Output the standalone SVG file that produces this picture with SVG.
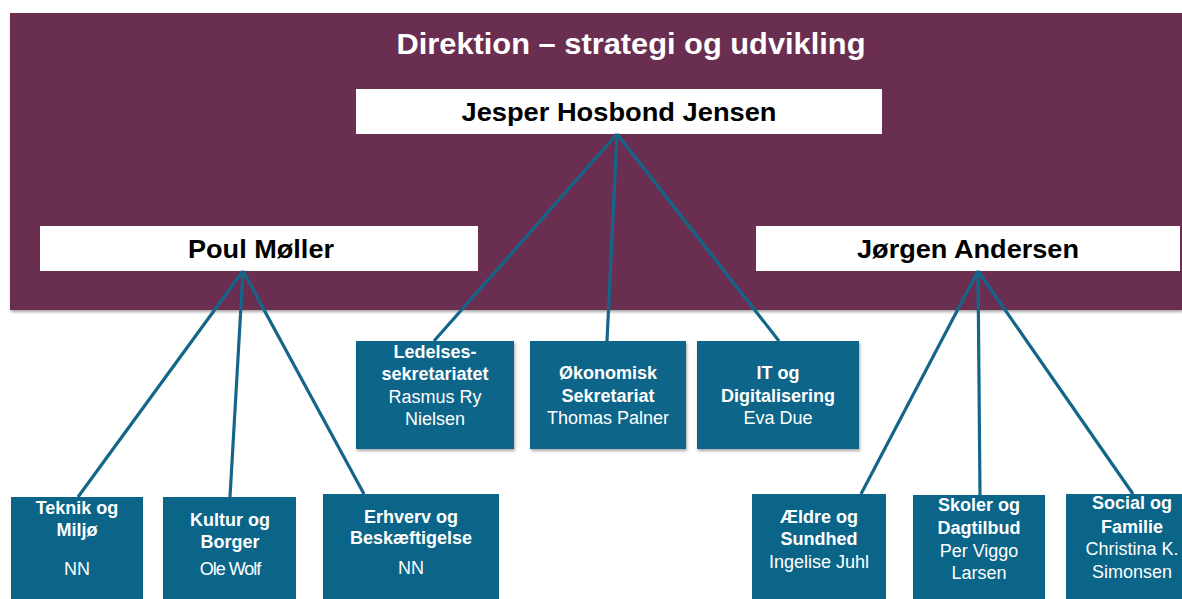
<svg xmlns="http://www.w3.org/2000/svg" width="1182" height="599" viewBox="0 0 1182 599">
<defs>
<filter id="sh" x="-5%" y="-5%" width="115%" height="120%"><feDropShadow dx="1" dy="2" stdDeviation="1.5" flood-color="#000" flood-opacity="0.35"/></filter>
<style>
.band{fill:#6a2d51;}
.wbox{fill:#ffffff;}
.bbox{fill:#0a6589;}
.conn line{stroke:#13668a;stroke-width:3.2;fill:none;}
text{font-family:"Liberation Sans",Arial,sans-serif;text-anchor:middle;}
.title{font-size:30px;font-weight:bold;fill:#ffffff;}
.head{font-size:26px;font-weight:bold;fill:#000000;}
.b{font-size:18px;font-weight:bold;fill:#ffffff;}
.r{font-size:18px;fill:#ffffff;}
</style>
</defs>
<rect width="1182" height="599" fill="#ffffff"/>
<g id="direktion">
<rect class="band" x="10" y="13" width="1172" height="297" filter="url(#sh)"/>
<text class="title" x="631" y="54" textLength="469" lengthAdjust="spacingAndGlyphs">Direktion – strategi og udvikling</text>
</g>
<g id="jesper">
<rect class="wbox" x="356" y="89" width="526" height="45"/>
<text class="head" x="619" y="121" textLength="315" lengthAdjust="spacingAndGlyphs">Jesper Hosbond Jensen</text>
</g>
<g id="poul">
<rect class="wbox" x="40" y="226" width="438" height="45"/>
<text class="head" x="261" y="258" textLength="146" lengthAdjust="spacingAndGlyphs">Poul Møller</text>
</g>
<g id="jorgen">
<rect class="wbox" x="756" y="226" width="424" height="45"/>
<text class="head" x="968" y="258" textLength="222" lengthAdjust="spacingAndGlyphs">Jørgen Andersen</text>
</g>
<g id="connectors" class="conn">
<line x1="617" y1="134" x2="434" y2="341"/>
<line x1="617" y1="134" x2="607" y2="341"/>
<line x1="617" y1="134" x2="779" y2="341"/>
<line x1="243" y1="271" x2="78" y2="497"/>
<line x1="243" y1="271" x2="230" y2="497"/>
<line x1="243" y1="271" x2="364" y2="494"/>
<line x1="978" y1="271" x2="861" y2="494"/>
<line x1="978" y1="271" x2="980" y2="495"/>
<line x1="978" y1="271" x2="1133" y2="494"/>
</g>
<g id="ledelses">
<rect class="bbox" x="356" y="341" width="158" height="108" filter="url(#sh)"/>
<text class="b" x="435" y="358">Ledelses-</text>
<text class="b" x="435" y="380">sekretariatet</text>
<text class="r" x="435" y="403">Rasmus Ry</text>
<text class="r" x="435" y="425">Nielsen</text>
</g>
<g id="okonomisk">
<rect class="bbox" x="530" y="341" width="156" height="108" filter="url(#sh)"/>
<text class="b" x="608" y="379">Økonomisk</text>
<text class="b" x="608" y="402">Sekretariat</text>
<text class="r" x="608" y="424">Thomas Palner</text>
</g>
<g id="it">
<rect class="bbox" x="697" y="341" width="162" height="108" filter="url(#sh)"/>
<text class="b" x="778" y="379">IT og</text>
<text class="b" x="778" y="402">Digitalisering</text>
<text class="r" x="778" y="424">Eva Due</text>
</g>
<g id="teknik">
<rect class="bbox" x="11" y="497" width="132" height="110"/>
<text class="b" x="77" y="514">Teknik og</text>
<text class="b" x="77" y="536">Miljø</text>
<text class="r" x="77" y="575">NN</text>
</g>
<g id="kultur">
<rect class="bbox" x="163" y="497" width="133" height="110"/>
<text class="b" x="230" y="526">Kultur og</text>
<text class="b" x="230" y="548">Borger</text>
<text class="r" x="230" y="575" letter-spacing="-1">Ole Wolf</text>
</g>
<g id="erhverv">
<rect class="bbox" x="323" y="494" width="176" height="110"/>
<text class="b" x="411" y="523">Erhverv og</text>
<text class="b" x="411" y="544">Beskæftigelse</text>
<text class="r" x="411" y="574">NN</text>
</g>
<g id="aeldre">
<rect class="bbox" x="752" y="494" width="134" height="110"/>
<text class="b" x="819" y="523">Ældre og</text>
<text class="b" x="819" y="545">Sundhed</text>
<text class="r" x="819" y="568">Ingelise Juhl</text>
</g>
<g id="skoler">
<rect class="bbox" x="913" y="495" width="132" height="110"/>
<text class="b" x="979" y="511">Skoler og</text>
<text class="b" x="979" y="534">Dagtilbud</text>
<text class="r" x="979" y="557">Per Viggo</text>
<text class="r" x="979" y="579">Larsen</text>
</g>
<g id="social">
<rect class="bbox" x="1066" y="494" width="120" height="110"/>
<text class="b" x="1132" y="509">Social og</text>
<text class="b" x="1132" y="533">Familie</text>
<text class="r" x="1132" y="555">Christina K.</text>
<text class="r" x="1132" y="578">Simonsen</text>
</g>
</svg>
